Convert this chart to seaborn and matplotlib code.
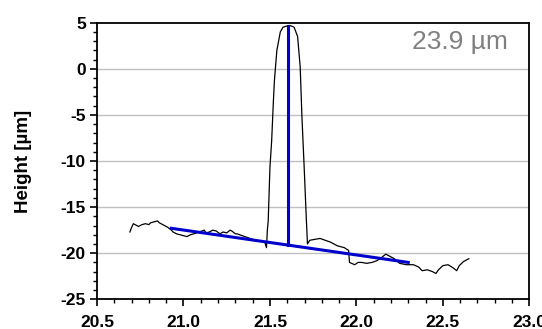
import numpy as np
import seaborn as sns
import matplotlib.pyplot as plt
from matplotlib.ticker import MultipleLocator

# surface profile (x position, height in µm)
profile_x = [20.69, 20.70, 20.71, 20.73, 20.74, 20.76, 20.78, 20.80, 20.81, 20.83,
             20.85, 20.86, 20.87, 20.89, 20.91, 20.93, 20.94, 20.96, 20.98, 21.00,
             21.02, 21.04, 21.06, 21.09, 21.12, 21.13, 21.15, 21.17, 21.19, 21.21,
             21.23, 21.25, 21.27, 21.28, 21.30, 21.31, 21.34, 21.37, 21.40, 21.42,
             21.45, 21.47, 21.48, 21.485, 21.49, 21.50, 21.51, 21.52, 21.526, 21.54,
             21.56, 21.575, 21.59, 21.613, 21.63, 21.64, 21.66, 21.675, 21.685, 21.698,
             21.71, 21.717, 21.73, 21.76, 21.79, 21.82, 21.85, 21.89, 21.93, 21.955,
             21.96, 21.99, 22.01, 22.03, 22.06, 22.09, 22.12, 22.15, 22.17, 22.20,
             22.22, 22.25, 22.29, 22.33, 22.36, 22.38, 22.41, 22.44, 22.46, 22.475,
             22.50, 22.53, 22.56, 22.58, 22.595, 22.62, 22.65]
profile_y = [-17.7, -17.2, -16.8, -17.0, -17.1, -16.9, -16.8, -16.9, -16.7, -16.6,
             -16.5, -16.7, -16.8, -17.0, -17.2, -17.5, -17.7, -17.9, -18.0, -18.1,
             -18.2, -18.0, -17.9, -17.7, -17.5, -17.8, -17.7, -17.5, -17.6, -17.9,
             -17.7, -17.8, -17.5, -17.6, -17.9, -17.9, -18.1, -18.3, -18.5, -18.6,
             -18.7, -18.8, -19.4, -17.5, -16.5, -10.7, -7.8, -3.5, -1.25, 2.0,
             4.0, 4.5, 4.6, 4.7, 4.6, 4.5, 3.5, 0.2, -5.2, -10.7,
             -16.1, -19.0, -18.6, -18.5, -18.4, -18.6, -18.8, -19.2, -19.4, -19.7,
             -21.0, -21.25, -21.0, -21.0, -21.1, -21.0, -20.8, -20.4, -20.1, -20.4,
             -20.6, -21.1, -21.25, -21.25, -21.5, -21.9, -21.8, -22.0, -22.2, -21.8,
             -21.35, -21.25, -21.6, -21.9, -21.35, -20.9, -20.6]

# fitted baseline and height marker
base_x = [20.93, 22.30]
base_y = [-17.3, -21.0]
marker_x = [21.607, 21.607]
marker_y = [-19.1, 4.6]
height_label = "23.9 µm"

x_ticks = [20.5, 21.0, 21.5, 22.0, 22.5, 23.0]

plt.rcParams['font.family'] = ['Liberation Sans', 'DejaVu Sans']
plt.rcParams['axes.unicode_minus'] = False

fig = plt.figure(figsize=(5.42, 3.29), dpi=100)
ax = fig.add_axes([0.179, 0.0903, 0.7976, 0.8407])

for y in [0, -5, -10, -15, -20]:
    ax.axhline(y, color="#c0c0c0", lw=1.0, zorder=0)

sns.lineplot(x=profile_x, y=profile_y, sort=False, estimator=None,
             color="black", lw=0.9, ax=ax)
sns.lineplot(x=base_x, y=base_y, sort=False, estimator=None,
             color="#0000cc", lw=2.2, ax=ax)
sns.lineplot(x=marker_x, y=marker_y, sort=False, estimator=None,
             color="#0000cc", lw=2.2, ax=ax)

ax.set_xlim(20.5, 23.0)
ax.set_ylim(-25, 5)
ax.set_xticks(x_ticks)
ax.set_xticklabels([f"{v:.1f}" for v in x_ticks])
ax.xaxis.set_minor_locator(MultipleLocator(0.1))
ax.yaxis.set_major_locator(MultipleLocator(5))
ax.yaxis.set_minor_locator(MultipleLocator(1))

ax.tick_params(which="major", direction="out", length=5, width=1.2,
               labelsize=12.5, pad=3)
ax.tick_params(axis="x", which="major", pad=6)
ax.tick_params(which="minor", direction="out", length=3, width=1.0)
for lab in ax.get_xticklabels() + ax.get_yticklabels():
    lab.set_fontweight("bold")

for side in ["left", "bottom", "right", "top"]:
    ax.spines[side].set_linewidth(1.3)
    ax.spines[side].set_color("black")

ax.set_xlabel("")
ax.set_ylabel("Height [µm]", fontsize=13.5, fontweight="bold")
ax.yaxis.set_label_coords(-0.150, 0.5)

ax.text(0.951, 0.930, height_label, transform=ax.transAxes, ha="right",
        va="center", fontsize=19, color="#808080")

fig.savefig("out.png", dpi=100)
